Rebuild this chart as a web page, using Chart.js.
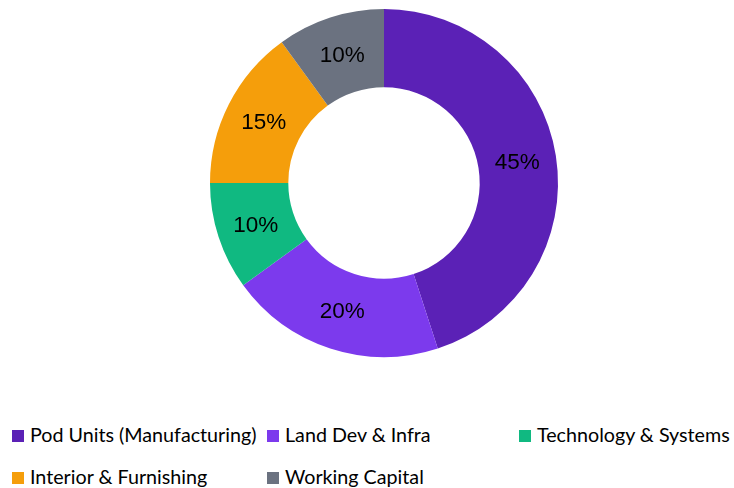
<!DOCTYPE html>
<html>
<head>
<meta charset="utf-8">
<script src="https://cdn.jsdelivr.net/npm/chart.js@4"></script>
<style>
  html, body { margin: 0; padding: 0; background: #ffffff; }
  #wrap { position: relative; width: 734px; height: 488px; }
  #chartBox { position: absolute; left: 0; top: 0; width: 734px; height: 366px; }
  .leg { position: absolute; font-family: Lato, "Open Sans", sans-serif; font-size: 19.7px; color: #000; white-space: nowrap; line-height: 20px; }
  .leg span.box { display: inline-block; width: 12px; height: 12px; margin-right: 6px; vertical-align: 0px; }
</style>
</head>
<body>
<div id="wrap">
  <div id="chartBox"><canvas id="c"></canvas></div>
  <div id="legend"></div>
</div>
<script>
const categories = ["Pod Units (Manufacturing)", "Land Dev & Infra", "Technology & Systems", "Interior & Furnishing", "Working Capital"];
const shares = [45, 20, 10, 15, 10];
const colors = ["#5b21b6", "#7c3aed", "#10b981", "#f59e0b", "#6b7280"];

const labelPlugin = {
  id: 'sliceLabels',
  afterDatasetsDraw(chart) {
    const ctx = chart.ctx;
    const meta = chart.getDatasetMeta(0);
    ctx.save();
    ctx.font = '22.5px "Liberation Sans", Arial, sans-serif';
    ctx.fillStyle = '#000';
    ctx.textAlign = 'center';
    ctx.textBaseline = 'middle';
    meta.data.forEach((arc, i) => {
      const p = arc.tooltipPosition();
      ctx.fillText(shares[i] + '%', p.x, p.y + 1);
    });
    ctx.restore();
  }
};

new Chart(document.getElementById('c'), {
  type: 'doughnut',
  data: {
    labels: categories,
    datasets: [{ data: shares, backgroundColor: colors, borderWidth: 0 }]
  },
  options: {
    responsive: true,
    maintainAspectRatio: false,
    animation: false,
    cutout: '55%',
    layout: { padding: { left: 34, right: 0, top: 9, bottom: 9 } },
    plugins: { legend: { display: false }, tooltip: { enabled: false } }
  },
  plugins: [labelPlugin]
});

const legPos = [[12, 425], [267, 425], [519, 425], [12, 467], [267, 467]];
const legend = document.getElementById('legend');
categories.forEach((name, i) => {
  const d = document.createElement('div');
  d.className = 'leg';
  d.style.left = legPos[i][0] + 'px';
  d.style.top = legPos[i][1] + 'px';
  const b = document.createElement('span');
  b.className = 'box';
  b.style.background = colors[i];
  d.appendChild(b);
  d.appendChild(document.createTextNode(name));
  legend.appendChild(d);
});
</script>
</body>
</html>
